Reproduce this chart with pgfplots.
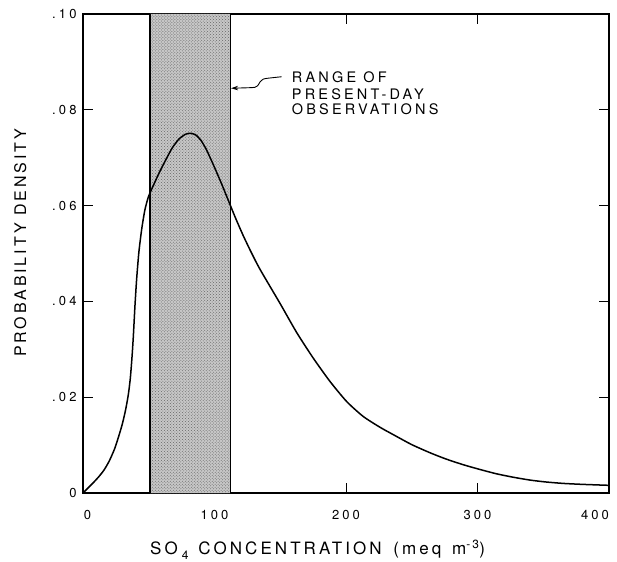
\documentclass[border=0pt]{standalone}
\usepackage{fontspec}
\setmainfont{TeX Gyre Heros}
\newfontfamily\tickfont{TeX Gyre Heros}[LetterSpace=24]
\newfontfamily\notefont{TeX Gyre Heros}[LetterSpace=22]
\newfontfamily\titlefont{TeX Gyre Heros}[LetterSpace=18]
\usepackage{pgfplots}
\pgfplotsset{compat=1.18}
\usetikzlibrary{patterns,arrows.meta}

\begin{document}
\begin{tikzpicture}
\useasboundingbox (-83bp,-69bp) rectangle (534bp,493bp);
\begin{axis}[
  at={(0,0)}, anchor=south west,
  scale only axis, width=526bp, height=479bp,
  xmin=0, xmax=400, ymin=0, ymax=0.1,
  clip=false,
  xtick={0,100,200,300,400},
  xticklabels={\rule{9bp}{0pt}0,100,200,300,400\rule{28bp}{0pt}},
  ytick={0,0.02,0.04,0.06,0.08,0.1},
  yticklabels={0,.02,.04,.06,.08,\raisebox{-8bp}{.10}},
  minor tick num=0,
  tick align=inside,
  xtick pos=both, ytick pos=both,
  xticklabel pos=lower, yticklabel pos=left,
  major tick length=10bp,
  axis line style={line width=1.1bp},
  every tick/.style={black, line width=1bp},
  ticklabel style={font=\tickfont\fontsize{13bp}{15bp}\selectfont},
  xticklabel style={anchor=base, yshift=-26bp},
  yticklabel style={anchor=east, xshift=-3bp},
]

% observed range, shaded band
\addplot[draw=none, fill=black!22] coordinates {(51,0) (51,0.1) (112,0.1) (112,0)} \closedcycle;
\addplot[draw=none, pattern=crosshatch dots, pattern color=black!60] coordinates {(51,0) (51,0.1) (112,0.1) (112,0)} \closedcycle;
\addplot[black, line width=1.2bp] coordinates {(51,0) (51,0.1)};
\addplot[black, line width=1.2bp] coordinates {(112,0) (112,0.1)};

% probability density of SO4 concentration
\addplot[black, line width=1.5bp, smooth, tension=0.4] coordinates {
  (0,0) (4,0.0011) (8,0.0022) (12,0.0034) (16,0.0048) (20,0.0067)
  (24,0.0092) (27,0.0117) (30,0.0145) (32.5,0.0175) (34.5,0.0206)
  (36,0.0240) (37.3,0.0285) (38.3,0.0328) (39.5,0.0390) (40.8,0.0447)
  (42.5,0.0503) (44.6,0.0550) (47,0.0590) (49.7,0.0618) (53.5,0.0642)
  (58,0.0669) (63.6,0.0699) (68,0.0721) (73,0.0739) (78,0.0749)
  (82,0.0751) (86,0.0747) (90,0.0735) (94,0.0716) (99,0.0686)
  (105,0.0648) (110.5,0.0611) (116,0.0574) (121.9,0.0537) (128,0.0502)
  (134.6,0.0467) (150,0.0395) (162.5,0.0335) (175,0.0282) (187.8,0.0233)
  (200.5,0.0191) (213,0.0160) (226,0.0137) (238.5,0.0118) (250,0.0101)
  (263.9,0.0084) (276,0.0071) (289.2,0.0059) (302,0.0049) (314.6,0.0040)
  (327,0.0033) (339.9,0.0027) (352,0.0023) (365.3,0.0020) (380,0.0018)
  (400,0.0016)
};

% annotation
\draw[black, line width=0.9bp, -{Stealth[length=7bp,width=4.5bp]}]
  plot[smooth, tension=0.5] coordinates {
    (axis cs:151,0.0869) (axis cs:140.9,0.0866) (axis cs:137.1,0.0864)
    (axis cs:134.6,0.0858) (axis cs:133.3,0.0852) (axis cs:130.8,0.0847)
    (axis cs:125,0.0846) (axis cs:112.6,0.0845)};
\begin{scope}[every node/.style={anchor=base west, inner sep=0pt,
    font=\notefont\fontsize{14.5bp}{17bp}\selectfont}]
  \node at (axis cs:158.7,0.08574) {RANGE OF};
  \node at (axis cs:158.7,0.08225) {PRESENT-DAY};
  \node at (axis cs:158.7,0.07912) {OBSERVATIONS};
\end{scope}

% axis titles
\node[anchor=base west, inner sep=0pt, font=\titlefont\fontsize{17bp}{20bp}\selectfont]
  at (axis cs:50.95,-0.01294)
  {SO\hspace{4bp}\raisebox{-4.5bp}{\fontsize{12bp}{14bp}\selectfont 4}\hspace{10bp}CONCENTRATION\hspace{4bp} (meq\hspace{3bp} m\textsuperscript{-3})};
\node[rotate=90, anchor=base west, inner sep=0pt, font=\titlefont\fontsize{16bp}{19bp}\selectfont]
  at (axis cs:-43.3,0.0284) {PROBABILITY DENSITY};
\end{axis}
\end{tikzpicture}
\end{document}
